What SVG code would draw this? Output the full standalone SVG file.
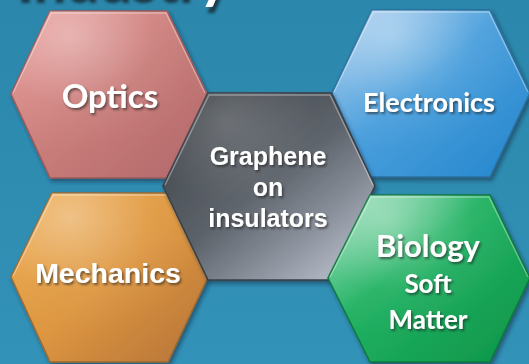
<svg xmlns="http://www.w3.org/2000/svg" width="529" height="364" viewBox="0 0 529 364">
  <style>
    .hex { stroke-width: 1.6; filter: url(#hexShadow); }
    .gloss { pointer-events: none; }
    .rim { fill: none; stroke: #ffffff; stroke-opacity: 0.35; stroke-width: 1.4; }
    .lbl { fill: #ffffff; font-weight: bold; text-anchor: middle; filter: url(#textShadow); }
    .hum { font-family: "Lato", "Open Sans", "Liberation Sans", sans-serif; }
    .grot { font-family: "Liberation Sans", Arial, sans-serif; }
    .title { fill: #ffffff; font-weight: bold; font-family: "Lato", "Open Sans", sans-serif; font-size: 58px; filter: url(#titleShadow); }
  </style>
  <defs>
    <linearGradient id="bg" x1="0" y1="0" x2="0" y2="1">
      <stop offset="0" stop-color="#2b87ab"/>
      <stop offset="1" stop-color="#3392b8"/>
    </linearGradient>

    <filter id="hexShadow" x="-10%" y="-10%" width="125%" height="125%">
      <feDropShadow dx="2" dy="3" stdDeviation="2.2" flood-color="#0d2c3c" flood-opacity="0.55"/>
    </filter>
    <filter id="textShadow" x="-10%" y="-20%" width="125%" height="150%">
      <feDropShadow dx="1.5" dy="2" stdDeviation="1.2" flood-color="#1b1b1b" flood-opacity="0.6"/>
    </filter>
    <filter id="titleShadow" x="-10%" y="-20%" width="125%" height="160%">
      <feDropShadow dx="2" dy="6" stdDeviation="1.8" flood-color="#12303e" flood-opacity="0.9"/>
    </filter>

    <!-- glassy highlight laid over every tile -->
    <radialGradient id="shine" cx="0.3" cy="0.15" r="0.7">
      <stop offset="0" stop-color="#ffffff" stop-opacity="0.35"/>
      <stop offset="0.6" stop-color="#ffffff" stop-opacity="0.05"/>
      <stop offset="1" stop-color="#ffffff" stop-opacity="0"/>
    </radialGradient>

    <linearGradient id="gOptics" x1="0" y1="0" x2="1" y2="1">
      <stop offset="0" stop-color="#e89794"/>
      <stop offset="0.5" stop-color="#c97d7a"/>
      <stop offset="1" stop-color="#b2676a"/>
    </linearGradient>
    <linearGradient id="gElec" x1="0" y1="0" x2="1" y2="1">
      <stop offset="0" stop-color="#a9cdee"/>
      <stop offset="0.45" stop-color="#4a9fdc"/>
      <stop offset="1" stop-color="#2385cc"/>
    </linearGradient>
    <linearGradient id="gGraph" x1="0.1" y1="0.1" x2="0.9" y2="1">
      <stop offset="0" stop-color="#3b4045"/>
      <stop offset="0.45" stop-color="#5a6068"/>
      <stop offset="1" stop-color="#bcc3d0"/>
    </linearGradient>
    <linearGradient id="gMech" x1="0" y1="0" x2="1" y2="1">
      <stop offset="0" stop-color="#eea847"/>
      <stop offset="0.5" stop-color="#dd9640"/>
      <stop offset="1" stop-color="#b57238"/>
    </linearGradient>
    <linearGradient id="gBio" x1="0" y1="0" x2="1" y2="1">
      <stop offset="0" stop-color="#9fe0bf"/>
      <stop offset="0.4" stop-color="#22b263"/>
      <stop offset="1" stop-color="#0c9448"/>
    </linearGradient>
  </defs>

  <!-- backdrop -->
  <rect x="0" y="0" width="529" height="364" fill="url(#bg)"/>

  <!-- heading, mostly above the frame -->
  <text class="title" x="15" y="-3">Industry</text>

  <g id="node-optics">
    <polygon class="hex" points="50,11 167,11 207,94 167,178 50,178 11,94" fill="url(#gOptics)" stroke="#9a5a5a"/>
    <polygon class="gloss" points="50,11 167,11 207,94 167,178 50,178 11,94" fill="url(#shine)"/>
    <polyline class="rim" points="13,93 51,13 166,13 205,93"/>
    <text class="lbl hum" x="110" y="108" font-size="33">Optics</text>
  </g>

  <g id="node-electronics">
    <polygon class="hex" points="372,10 490,10 530,93 490,177 370,177 332,93" fill="url(#gElec)" stroke="#2a6f9f"/>
    <polygon class="gloss" points="372,10 490,10 530,93 490,177 370,177 332,93" fill="url(#shine)"/>
    <polyline class="rim" points="334,92 373,12 489,12 528,92"/>
    <text class="lbl hum" x="429" y="112" font-size="27">Electronics</text>
  </g>

  <g id="node-mechanics">
    <polygon class="hex" points="52,193 168,193 208,277 168,362 50,362 11,277" fill="url(#gMech)" stroke="#9a6a30"/>
    <polygon class="gloss" points="52,193 168,193 208,277 168,362 50,362 11,277" fill="url(#shine)"/>
    <polyline class="rim" points="13,276 53,195 167,195 206,276"/>
    <text class="lbl grot" x="108" y="283" font-size="28.5">Mechanics</text>
  </g>

  <g id="node-graphene">
    <polygon class="hex" points="208,93 331,93 375,186 329,280 208,280 163,186" fill="url(#gGraph)" stroke="#3a3f45"/>
    <polygon class="gloss" points="208,93 331,93 375,186 329,280 208,280 163,186" fill="url(#shine)" opacity="0.6"/>
    <polyline class="rim" points="165,185 209,95 330,95 373,185"/>
    <text class="lbl grot" x="268" y="165" font-size="25">Graphene</text>
    <text class="lbl grot" x="268" y="196" font-size="25">on</text>
    <text class="lbl grot" x="268" y="227" font-size="25">insulators</text>
  </g>

  <g id="node-biology">
    <polygon class="hex" points="370,195 490,195 530,278 490,362 370,362 328,278" fill="url(#gBio)" stroke="#0d7a3e"/>
    <polygon class="gloss" points="370,195 490,195 530,278 490,362 370,362 328,278" fill="url(#shine)"/>
    <polyline class="rim" points="330,277 371,197 489,197 528,277"/>
    <text class="lbl hum" x="428" y="257" font-size="31">Biology</text>
    <text class="lbl hum" x="428" y="293" font-size="26">Soft</text>
    <text class="lbl hum" x="428" y="329" font-size="26">Matter</text>
  </g>
</svg>
